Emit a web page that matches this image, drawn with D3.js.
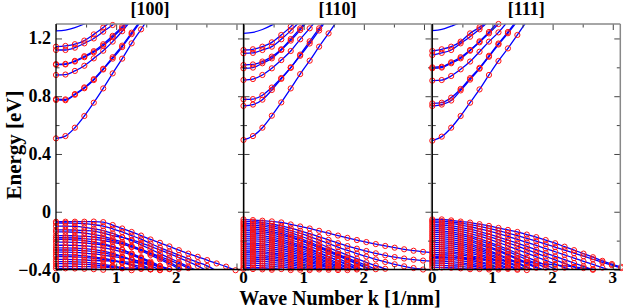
<!DOCTYPE html>
<html>
<head>
<meta charset="utf-8">
<script src="https://cdn.jsdelivr.net/npm/d3@7"></script>
<style>
  html, body { margin: 0; padding: 0; background: #fff; }
  svg { display: block; font-family: "Liberation Serif", "DejaVu Serif", serif; font-weight: bold; }
</style>
</head>
<body>
<div id="chart"></div>
<script>
const W = 623, H = 308
const PANEL_LEFT = [56, 243.5, 432.3]
const PANEL_W = 188
const TOP = 24, BOTTOM = 269.5

const titles = ['[100]', '[110]', '[111]']
// wave numbers at which the bands were sampled (1/nm)
const kValues = [0, 0.157, 0.314, 0.471, 0.628, 0.785, 0.942, 1.1, 1.257, 1.414, 1.571,
  1.728, 1.885, 2.042, 2.199, 2.356, 2.513, 2.67, 2.827, 2.985, 3.142]
const yMajor = [-0.4, 0, 0.4, 0.8, 1.2]
const yMinor = [-0.2, 0.2, 0.6, 1.0]
const xMajor = [0, 1, 2, 3]
const xMinor = [0.5, 1.5, 2.5]
const xLabels = [[0, 1, 2], [0, 1, 2], [0, 1, 2, 3]]

// conduction bands, energy (eV) at each k
const cond100 = [
  [0.508, 0.524, 0.582, 0.663, 0.755, 0.854, 0.958, 1.06, 1.166, 1.263, 1.36],
  [0.78, 0.778, 0.815, 0.861, 0.918, 0.99, 1.07, 1.15, 1.24, 1.33],
  [0.774, 0.772, 0.81, 0.855, 0.912, 0.985, 1.06, 1.14, 1.23, 1.32],
  [0.947, 0.95, 0.975, 1.011, 1.062, 1.115, 1.178, 1.25, 1.33],
  [1.018, 1.02, 1.04, 1.07, 1.104, 1.15, 1.208, 1.27, 1.34],
  [1.022, 1.024, 1.045, 1.077, 1.112, 1.16, 1.218, 1.282, 1.35],
  [1.12, 1.12, 1.136, 1.166, 1.2, 1.247, 1.293, 1.35],
  [1.143, 1.148, 1.16, 1.185, 1.228, 1.275, 1.33]
]
const cond110 = [
  [0.497, 0.524, 0.582, 0.665, 0.757, 0.854, 0.953, 1.046, 1.143, 1.235, 1.33],
  [0.733, 0.742, 0.776, 0.843, 0.92, 0.996, 1.088, 1.18, 1.27, 1.36],
  [0.778, 0.78, 0.807, 0.86, 0.926, 1.0, 1.08, 1.165, 1.255, 1.35],
  [0.912, 0.919, 0.947, 0.993, 1.05, 1.113, 1.194, 1.27, 1.35],
  [0.993, 0.998, 1.028, 1.062, 1.12, 1.185, 1.258, 1.34],
  [1.016, 1.02, 1.04, 1.074, 1.125, 1.196, 1.27, 1.35],
  [1.097, 1.1, 1.12, 1.143, 1.194, 1.254, 1.32],
  [1.12, 1.125, 1.143, 1.173, 1.224, 1.282, 1.35]
]
const cond111 = [
  [0.492, 0.52, 0.582, 0.663, 0.755, 0.847, 0.947, 1.044, 1.131, 1.224, 1.32],
  [0.732, 0.742, 0.77, 0.84, 0.915, 0.99, 1.073, 1.158, 1.236, 1.32],
  [0.75, 0.755, 0.79, 0.85, 0.925, 0.996, 1.08, 1.165, 1.245, 1.33],
  [0.908, 0.912, 0.94, 0.986, 1.04, 1.108, 1.178, 1.242, 1.32],
  [0.993, 0.998, 1.028, 1.062, 1.115, 1.173, 1.235, 1.3, 1.36],
  [1.0, 1.004, 1.035, 1.07, 1.12, 1.18, 1.245, 1.32],
  [1.085, 1.1, 1.12, 1.166, 1.212, 1.263, 1.32],
  [1.113, 1.125, 1.143, 1.178, 1.235, 1.277, 1.33]
]
// upper bands drawn as lines only (no markers)
const extra100 = [[1.252, 1.258, 1.275, 1.3, 1.33]]
const extra110 = [[1.235, 1.242, 1.262, 1.292, 1.33]]
const extra111 = [[1.254, 1.262, 1.285, 1.31, 1.34]]

// valence bands
const val100 = [
  [-0.069, -0.069, -0.069, -0.069, -0.068, -0.072, -0.092, -0.116, -0.14, -0.165, -0.192, -0.215, -0.24, -0.266, -0.29, -0.312, -0.335, -0.358, -0.38, -0.405],
  [-0.078, -0.078, -0.08, -0.082, -0.09, -0.1, -0.118, -0.14, -0.165, -0.19, -0.22, -0.248, -0.275, -0.3, -0.325, -0.35, -0.375, -0.41],
  [-0.1, -0.1, -0.102, -0.108, -0.118, -0.13, -0.15, -0.175, -0.2, -0.23, -0.26, -0.29, -0.32, -0.35, -0.38, -0.41],
  [-0.125, -0.125, -0.127, -0.13, -0.135, -0.148, -0.165, -0.178, -0.195, -0.215, -0.24, -0.265, -0.29, -0.318, -0.345, -0.375, -0.41],
  [-0.14, -0.14, -0.142, -0.148, -0.158, -0.17, -0.19, -0.21, -0.235, -0.262, -0.29, -0.32, -0.35, -0.385, -0.42],
  [-0.165, -0.165, -0.167, -0.17, -0.175, -0.185, -0.2, -0.22, -0.245, -0.27, -0.3, -0.33, -0.36, -0.395, -0.43],
  [-0.18, -0.18, -0.182, -0.186, -0.192, -0.2, -0.21, -0.225, -0.243, -0.262, -0.285, -0.31, -0.335, -0.36, -0.39, -0.42],
  [-0.192, -0.192, -0.195, -0.2, -0.21, -0.222, -0.24, -0.262, -0.29, -0.32, -0.355, -0.39, -0.43],
  [-0.21, -0.21, -0.212, -0.216, -0.222, -0.23, -0.245, -0.265, -0.29, -0.315, -0.345, -0.375, -0.41],
  [-0.232, -0.232, -0.233, -0.236, -0.242, -0.25, -0.262, -0.278, -0.3, -0.325, -0.355, -0.388, -0.42],
  [-0.25, -0.25, -0.252, -0.256, -0.262, -0.272, -0.288, -0.31, -0.335, -0.365, -0.4, -0.44],
  [-0.265, -0.265, -0.266, -0.27, -0.276, -0.285, -0.298, -0.312, -0.33, -0.35, -0.375, -0.402, -0.43],
  [-0.28, -0.28, -0.282, -0.286, -0.292, -0.3, -0.31, -0.32, -0.33, -0.345, -0.36, -0.378, -0.398, -0.42],
  [-0.298, -0.298, -0.3, -0.305, -0.312, -0.322, -0.335, -0.352, -0.372, -0.395, -0.42],
  [-0.31, -0.31, -0.312, -0.316, -0.322, -0.33, -0.34, -0.352, -0.365, -0.38, -0.398, -0.42],
  [-0.33, -0.33, -0.331, -0.334, -0.338, -0.34, -0.342, -0.345, -0.35, -0.355, -0.365, -0.378, -0.395, -0.415],
  [-0.345, -0.345, -0.347, -0.35, -0.356, -0.364, -0.375, -0.39, -0.41],
  [-0.36, -0.36, -0.361, -0.364, -0.368, -0.374, -0.382, -0.392, -0.405],
  [-0.378, -0.378, -0.379, -0.38, -0.382, -0.384, -0.386, -0.388, -0.39, -0.394, -0.398, -0.405],
  [-0.392, -0.392, -0.393, -0.395, -0.398, -0.402]
]
const val110 = [
  [-0.053, -0.058, -0.062, -0.067, -0.074, -0.088, -0.102, -0.116, -0.132, -0.148, -0.165, -0.181, -0.196, -0.21, -0.224, -0.237, -0.249, -0.26, -0.27, -0.278, -0.284],
  [-0.068, -0.069, -0.075, -0.085, -0.098, -0.114, -0.132, -0.152, -0.174, -0.195, -0.218, -0.238, -0.256, -0.272, -0.288, -0.302, -0.314, -0.324, -0.332, -0.338, -0.342],
  [-0.08, -0.082, -0.088, -0.098, -0.112, -0.13, -0.15, -0.172, -0.196, -0.22, -0.245, -0.268, -0.29, -0.31, -0.33, -0.348, -0.364, -0.378, -0.39, -0.4, -0.41],
  [-0.092, -0.094, -0.1, -0.11, -0.125, -0.145, -0.168, -0.193, -0.22, -0.248, -0.275, -0.3, -0.325, -0.35, -0.373, -0.395, -0.415],
  [-0.105, -0.107, -0.113, -0.124, -0.14, -0.16, -0.184, -0.21, -0.238, -0.266, -0.294, -0.32, -0.346, -0.372, -0.398, -0.42],
  [-0.118, -0.12, -0.126, -0.137, -0.152, -0.172, -0.196, -0.222, -0.25, -0.278, -0.306, -0.334, -0.362, -0.39, -0.418],
  [-0.13, -0.132, -0.138, -0.148, -0.162, -0.18, -0.2, -0.222, -0.246, -0.272, -0.3, -0.328, -0.356, -0.385, -0.414],
  [-0.145, -0.147, -0.152, -0.162, -0.176, -0.194, -0.216, -0.24, -0.266, -0.294, -0.323, -0.352, -0.382, -0.412],
  [-0.158, -0.16, -0.166, -0.176, -0.19, -0.208, -0.23, -0.255, -0.282, -0.31, -0.34, -0.37, -0.4, -0.43],
  [-0.172, -0.174, -0.18, -0.19, -0.203, -0.22, -0.24, -0.262, -0.286, -0.312, -0.338, -0.365, -0.392, -0.42],
  [-0.186, -0.188, -0.193, -0.202, -0.215, -0.232, -0.252, -0.275, -0.3, -0.327, -0.355, -0.384, -0.414],
  [-0.2, -0.202, -0.207, -0.216, -0.229, -0.245, -0.265, -0.287, -0.311, -0.337, -0.364, -0.392, -0.42],
  [-0.215, -0.217, -0.222, -0.23, -0.242, -0.258, -0.277, -0.299, -0.323, -0.349, -0.376, -0.404],
  [-0.228, -0.23, -0.235, -0.243, -0.255, -0.27, -0.288, -0.309, -0.332, -0.357, -0.383, -0.41],
  [-0.242, -0.244, -0.249, -0.257, -0.268, -0.282, -0.3, -0.32, -0.343, -0.368, -0.394, -0.42],
  [-0.256, -0.258, -0.262, -0.27, -0.281, -0.295, -0.312, -0.332, -0.354, -0.378, -0.404],
  [-0.27, -0.272, -0.276, -0.284, -0.294, -0.307, -0.323, -0.342, -0.363, -0.386, -0.41],
  [-0.284, -0.285, -0.289, -0.296, -0.306, -0.318, -0.333, -0.35, -0.37, -0.392, -0.416],
  [-0.298, -0.299, -0.303, -0.31, -0.319, -0.331, -0.345, -0.362, -0.381, -0.402],
  [-0.312, -0.313, -0.317, -0.323, -0.332, -0.343, -0.357, -0.373, -0.391, -0.411],
  [-0.326, -0.327, -0.33, -0.336, -0.344, -0.355, -0.368, -0.383, -0.4],
  [-0.34, -0.341, -0.344, -0.35, -0.358, -0.368, -0.38, -0.394, -0.41],
  [-0.355, -0.356, -0.359, -0.364, -0.371, -0.38, -0.391, -0.404],
  [-0.37, -0.371, -0.373, -0.378, -0.384, -0.392, -0.402],
  [-0.385, -0.386, -0.388, -0.392, -0.397, -0.404],
  [-0.396, -0.397, -0.399, -0.402]
]
const val111 = [
  [-0.053, -0.053, -0.06, -0.068, -0.075, -0.086, -0.098, -0.112, -0.126, -0.14, -0.158, -0.176, -0.196, -0.218, -0.242, -0.266, -0.29, -0.315, -0.34, -0.362, -0.382],
  [-0.064, -0.065, -0.071, -0.079, -0.089, -0.101, -0.115, -0.131, -0.148, -0.166, -0.185, -0.204, -0.224, -0.245, -0.266, -0.287, -0.308, -0.329, -0.35, -0.37, -0.39],
  [-0.076, -0.077, -0.083, -0.092, -0.104, -0.118, -0.134, -0.152, -0.171, -0.191, -0.212, -0.233, -0.255, -0.277, -0.299, -0.321, -0.343, -0.365, -0.387, -0.41],
  [-0.09, -0.092, -0.098, -0.108, -0.121, -0.137, -0.155, -0.175, -0.196, -0.218, -0.24, -0.263, -0.286, -0.309, -0.332, -0.355, -0.378, -0.402],
  [-0.103, -0.105, -0.111, -0.122, -0.136, -0.153, -0.172, -0.193, -0.215, -0.238, -0.262, -0.286, -0.31, -0.334, -0.358, -0.382, -0.406],
  [-0.116, -0.118, -0.125, -0.136, -0.151, -0.169, -0.19, -0.213, -0.237, -0.262, -0.287, -0.312, -0.337, -0.362, -0.387, -0.412],
  [-0.13, -0.132, -0.139, -0.151, -0.167, -0.187, -0.21, -0.235, -0.261, -0.288, -0.315, -0.342, -0.369, -0.396, -0.423],
  [-0.143, -0.145, -0.152, -0.164, -0.18, -0.2, -0.223, -0.248, -0.275, -0.303, -0.331, -0.359, -0.387, -0.415],
  [-0.157, -0.159, -0.166, -0.178, -0.195, -0.216, -0.24, -0.266, -0.294, -0.323, -0.352, -0.381, -0.41],
  [-0.17, -0.172, -0.179, -0.191, -0.207, -0.227, -0.25, -0.275, -0.302, -0.33, -0.359, -0.388, -0.417],
  [-0.184, -0.186, -0.193, -0.205, -0.222, -0.243, -0.267, -0.294, -0.322, -0.351, -0.381, -0.411],
  [-0.198, -0.2, -0.207, -0.219, -0.235, -0.255, -0.278, -0.303, -0.33, -0.358, -0.387, -0.416],
  [-0.212, -0.214, -0.22, -0.232, -0.248, -0.268, -0.291, -0.317, -0.345, -0.374, -0.404],
  [-0.226, -0.228, -0.234, -0.245, -0.26, -0.279, -0.301, -0.326, -0.353, -0.381, -0.41],
  [-0.24, -0.242, -0.248, -0.259, -0.274, -0.293, -0.315, -0.34, -0.367, -0.395, -0.424],
  [-0.254, -0.256, -0.262, -0.272, -0.286, -0.304, -0.325, -0.349, -0.375, -0.402],
  [-0.268, -0.27, -0.276, -0.286, -0.3, -0.318, -0.339, -0.363, -0.389, -0.416],
  [-0.282, -0.284, -0.289, -0.298, -0.311, -0.328, -0.348, -0.371, -0.396, -0.422],
  [-0.296, -0.298, -0.303, -0.312, -0.325, -0.342, -0.362, -0.385, -0.41],
  [-0.31, -0.311, -0.316, -0.324, -0.336, -0.351, -0.369, -0.39, -0.413],
  [-0.318, -0.318, -0.319, -0.321, -0.324, -0.327, -0.331, -0.335, -0.34, -0.345, -0.35, -0.356, -0.362, -0.368, -0.375, -0.382, -0.39, -0.398, -0.406],
  [-0.325, -0.326, -0.33, -0.338, -0.349, -0.363, -0.38, -0.4],
  [-0.34, -0.341, -0.345, -0.352, -0.362, -0.375, -0.391, -0.41],
  [-0.355, -0.356, -0.359, -0.365, -0.374, -0.386, -0.4],
  [-0.37, -0.371, -0.374, -0.379, -0.387, -0.397, -0.41],
  [-0.385, -0.386, -0.388, -0.392, -0.398, -0.406]
]

const condBands = [cond100, cond110, cond111]
const valBands = [val100, val110, val111]
const extraBands = [extra100, extra110, extra111]

const svg = d3.select('#chart').append('svg').attr('width', W).attr('height', H)

const y = d3.scaleLinear().domain([-0.4, 1.3]).range([BOTTOM, TOP])

function drawPanel(p) {
  const left = PANEL_LEFT[p]
  const x = d3.scaleLinear().domain([0, 3.125]).range([left, left + PANEL_W])
  const g = svg.append('g').attr('class', 'panel')

  const clipId = 'clip' + p
  g.append('clipPath').attr('id', clipId)
    .append('rect').attr('x', left).attr('y', TOP).attr('width', PANEL_W).attr('height', BOTTOM - TOP)

  const line = d3.line()
    .x((d, i) => x(kValues[i]))
    .y(d => y(d))
    .curve(d3.curveMonotoneX)

  const bands = condBands[p].concat(valBands[p])
  const lines = g.append('g').attr('clip-path', `url(#${clipId})`)
  lines.selectAll('path.band')
    .data(bands.concat(extraBands[p]))
    .enter().append('path')
    .attr('class', 'band')
    .attr('d', line)
    .attr('fill', 'none')
    .attr('stroke', '#0000ff')
    .attr('stroke-width', 1.3)

  // markers, only those inside the plotted energy window
  const pts = []
  bands.forEach(b => b.forEach((e, i) => {
    if (e >= -0.405 && e <= 1.305) pts.push({ k: kValues[i], e })
  }))
  g.append('g').selectAll('circle')
    .data(pts)
    .enter().append('circle')
    .attr('cx', d => x(d.k))
    .attr('cy', d => y(d.e))
    .attr('r', 2.6)
    .attr('fill', 'none')
    .attr('stroke', '#ff1010')
    .attr('stroke-width', 1)

  // inward ticks on all four sides
  const tick = (axis, vals, size) => axis.tickValues(vals).tickSize(-size).tickSizeOuter(0).tickFormat('')
  const addAxis = (ax, tx, ty) => {
    const a = g.append('g').attr('transform', `translate(${tx},${ty})`).call(ax)
    a.select('.domain').remove()
    a.selectAll('line').attr('stroke', '#444').attr('stroke-width', 1)
  }
  addAxis(tick(d3.axisBottom(x), xMajor, 6), 0, BOTTOM)
  addAxis(tick(d3.axisBottom(x), xMinor, 3.5), 0, BOTTOM)
  addAxis(tick(d3.axisTop(x), xMajor, 6), 0, TOP)
  addAxis(tick(d3.axisTop(x), xMinor, 3.5), 0, TOP)
  addAxis(tick(d3.axisLeft(y), yMajor, 6), left, 0)
  addAxis(tick(d3.axisLeft(y), yMinor, 3.5), left, 0)
  addAxis(tick(d3.axisRight(y), yMajor, 6), left + PANEL_W, 0)
  addAxis(tick(d3.axisRight(y), yMinor, 3.5), left + PANEL_W, 0)

  // frame
  g.append('line').attr('x1', left).attr('x2', left + PANEL_W).attr('y1', TOP).attr('y2', TOP)
    .attr('stroke', '#888').attr('stroke-width', 1.5)
  g.append('line').attr('x1', left + PANEL_W).attr('x2', left + PANEL_W).attr('y1', TOP).attr('y2', BOTTOM)
    .attr('stroke', '#888').attr('stroke-width', 1.5)
  g.append('line').attr('x1', left).attr('x2', left + PANEL_W).attr('y1', BOTTOM).attr('y2', BOTTOM)
    .attr('stroke', '#000').attr('stroke-width', 1.3)
  g.append('line').attr('x1', left).attr('x2', left).attr('y1', TOP).attr('y2', BOTTOM)
    .attr('stroke', '#000').attr('stroke-width', 1.3)

  // x tick labels
  g.append('g').selectAll('text')
    .data(xLabels[p])
    .enter().append('text')
    .attr('x', d => x(d))
    .attr('y', BOTTOM + 13.5)
    .attr('text-anchor', 'middle')
    .attr('font-size', 17)
    .text(d => d)

  // panel title
  g.append('text')
    .attr('x', left + PANEL_W / 2)
    .attr('y', 15)
    .attr('text-anchor', 'middle')
    .attr('font-size', 18)
    .text(titles[p])

  if (p === 0) {
    g.append('g').selectAll('text')
      .data(yMajor)
      .enter().append('text')
      .attr('x', left - 5)
      .attr('y', d => y(d) + 6)
      .attr('text-anchor', 'end')
      .attr('font-size', 18)
      .text(d => d === 0 ? '0' : d3.format('.1f')(d))
  }
}

for (let p = 0; p < 3; p++) drawPanel(p)

svg.append('text')
  .attr('transform', 'translate(21,145) rotate(-90)')
  .attr('text-anchor', 'middle')
  .attr('font-size', 21)
  .text('Energy [eV]')

svg.append('text')
  .attr('x', 340)
  .attr('y', 304.5)
  .attr('text-anchor', 'middle')
  .attr('font-size', 20)
  .text('Wave Number k [1/nm]')
</script>
</body>
</html>
